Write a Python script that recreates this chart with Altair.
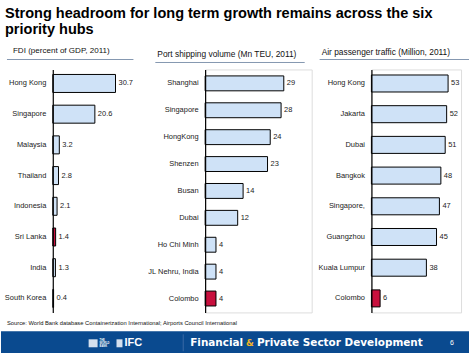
import altair as alt
import pandas as pd

# ---- data ----
fdi_cats = ["Hong Kong", "Singapore", "Malaysia", "Thailand", "Indonesia", "Sri Lanka", "India", "South Korea"]
fdi_vals = [30.7, 20.6, 3.2, 2.8, 2.1, 1.4, 1.3, 0.4]
fdi_labels = ["30.7", "20.6", "3.2", "2.8", "2.1", "1.4", "1.3", "0.4"]
fdi_hi = "Sri Lanka"

port_cats = ["Shanghai", "Singapore", "HongKong", "Shenzen", "Busan", "Dubai", "Ho Chi Minh", "JL Nehru,  India", "Colombo"]
port_vals = [29, 28, 24, 23, 14, 12, 4, 4, 4]
port_hi = "Colombo"

air_cats = ["Hong Kong", "Jakarta", "Dubai", "Bangkok", "Singapore,", "Guangzhou", "Kuala  Lumpur", "Colombo"]
air_vals = [53, 52, 51, 48, 47, 45, 38, 6]
air_hi = "Colombo"

title_lines = ["Strong headroom  for long term growth remains across the six", "priority hubs"]
panel_titles = ["FDI (percent of GDP, 2011)", "Port shipping  volume (Mn TEU, 2011)", "Air passenger  traffic (Million, 2011)"]
source_text = "Source:  World  Bank database  Containerization   International;  Airports Council  International"
banner_text = "Financial & Private Sector Development"

FONT = "Liberation Sans"
BLUE = "#cfe2f7"
RED = "#c8103e"
H = 244


def panel(cats, vals, labels, hi, width, xmax, pin, pout, title, tfs, tdx, tdy, ldx0, ldx1, ldy):
    df = pd.DataFrame({"cat": cats, "val": vals, "lab": labels})
    df["hi"] = df["cat"] == hi
    y = alt.Y("cat:N", sort=cats,
              scale=alt.Scale(paddingInner=pin, paddingOuter=pout),
              axis=alt.Axis(title=None, ticks=False, labelPadding=7, labelFont=FONT,
                            labelFontSize=7.5, labelFontWeight="normal", labelColor="#222222",
                            domainColor="#000000", domainWidth=1.2, labelLimit=200, grid=False,
                            zindex=1))
    x = alt.X("val:Q", scale=alt.Scale(domain=[0, xmax], nice=False), axis=None)
    base = alt.Chart(df)
    bars = base.mark_bar(stroke="black", strokeWidth=1).encode(
        x=x, y=y,
        color=alt.condition("datum.hi", alt.value(RED), alt.value(BLUE)))
    text = base.mark_text(align="left", dx=3, font=FONT, fontSize=7.5, color="#222222").encode(
        x=x, y=y, text="lab:N")
    ttl = alt.Chart(pd.DataFrame({"t": [title]})).mark_text(
        align="left", baseline="middle", font=FONT, fontSize=tfs, color="#111111").encode(
        x=alt.value(tdx), y=alt.value(tdy), text="t:N")
    line = alt.Chart(pd.DataFrame({"t": [title]})).mark_rule(color="#8497b0", strokeWidth=1).encode(
        x=alt.value(ldx0), x2=alt.value(ldx1), y=alt.value(ldy))
    return [bars, text, ttl, line]


p1 = panel(fdi_cats, fdi_vals, fdi_labels, fdi_hi, 93, 30.7 * 93 / 63, 0.414, 0.163,
           panel_titles[0], 8.1, -40, -19, -46, 81, -10)
p2 = panel(port_cats, port_vals, [str(v) for v in port_vals], port_hi, 107, 29 * 107 / 79, 0.446, 0.24,
           panel_titles[1], 8.4, -48, -16, -50, 100, -7)
p3 = panel(air_cats, air_vals, [str(v) for v in air_vals], air_hi, 90, 53 * 90 / 77, 0.446, 0.18,
           panel_titles[2], 8.4, -50, -18, -52, 98, -10)

# Slide decorations (background, title, source, banner) layered onto first panel
bg = alt.Chart(pd.DataFrame({"t": ["bg"]})).mark_rect(color="#ffffff").encode(
    x=alt.value(-52), x2=alt.value(418), y=alt.value(-68), y2=alt.value(285))
tdf = pd.DataFrame({"t": title_lines, "i": [0, 1]})
main_title = alt.Chart(tdf).transform_filter("datum.i == 0").mark_text(
    align="left", baseline="alphabetic", font=FONT, fontSize=14.6, fontWeight="bold", color="#000000").encode(
    x=alt.value(-48), y=alt.value(-52), text="t:N")
main_title2 = alt.Chart(tdf).transform_filter("datum.i == 1").mark_text(
    align="left", baseline="alphabetic", font=FONT, fontSize=14.6, fontWeight="bold", color="#000000").encode(
    x=alt.value(-48), y=alt.value(-36), text="t:N")
src = alt.Chart(pd.DataFrame({"t": [source_text]})).mark_text(
    align="left", baseline="middle", font=FONT, fontSize=5.8, color="#111111").encode(
    x=alt.value(-46), y=alt.value(255), text="t:N")
banner = alt.Chart(pd.DataFrame({"t": [banner_text]})).mark_rect(color="#0a4a8f").encode(
    x=alt.value(-52), x2=alt.value(418), y=alt.value(263), y2=alt.value(285))
divider = alt.Chart(pd.DataFrame({"t": [banner_text]})).mark_rule(color="#3a6aa5", strokeWidth=1).encode(
    x=alt.value(131), y=alt.value(266), y2=alt.value(283))
bparts = pd.DataFrame({"t": ["Financial", "&", "Private Sector Development"],
                       "c": ["#ffffff", "#f0b429", "#ffffff"],
                       "dx": [138, 194, 205], "fs": [10.5, 9, 10.5]})
btext = alt.Chart(bparts).mark_text(
    align="left", baseline="middle", font="DejaVu Sans", fontWeight="bold").encode(
    x=alt.X("dx:Q", scale=None), y=alt.value(275), text="t:N", color=alt.Color("c:N", scale=None),
    size=alt.Size("fs:Q", scale=None))
page = alt.Chart(pd.DataFrame({"t": ["6"]})).mark_text(
    align="left", baseline="middle", font=FONT, fontSize=7, color="#ffffff").encode(
    x=alt.value(399), y=alt.value(275), text="t:N")
logos = alt.Chart(pd.DataFrame({"t": ["THE", "WORLD", "BANK", "IFC"],
                                "px": [47, 47, 47, 72], "py": [272, 275, 278, 275],
                                "fs": [2.6, 2.6, 2.6, 11]})).mark_text(
    align="left", baseline="middle", font=FONT, fontWeight="bold", color="#ffffff").encode(
    x=alt.X("px:Q", scale=None), y=alt.Y("py:Q", scale=None), text="t:N",
    size=alt.Size("fs:Q", scale=None))
logo_box = alt.Chart(pd.DataFrame({"t": ["wb", "ifc"], "a": [36, 64], "b": [45, 70]})).mark_rect(
    color="#d5e0ee").encode(
    x=alt.X("a:Q", scale=None), x2="b:Q", y=alt.value(271), y2=alt.value(279))

l1 = alt.layer(bg, *p1, main_title, main_title2, src, banner, divider, btext, page, logos, logo_box
               ).properties(width=93, height=H)
l2 = alt.layer(*p2).properties(width=107, height=H)
l3 = alt.layer(*p3).properties(width=90, height=H)

chart = alt.hconcat(l1, l2, l3, spacing=60, bounds="flush").resolve_scale(
    x="independent", y="independent", color="independent").properties(
    padding=0
).configure_view(stroke=None).configure(background="white")

chart.save("out.html", embed_options={"renderer": "svg", "actions": False})
